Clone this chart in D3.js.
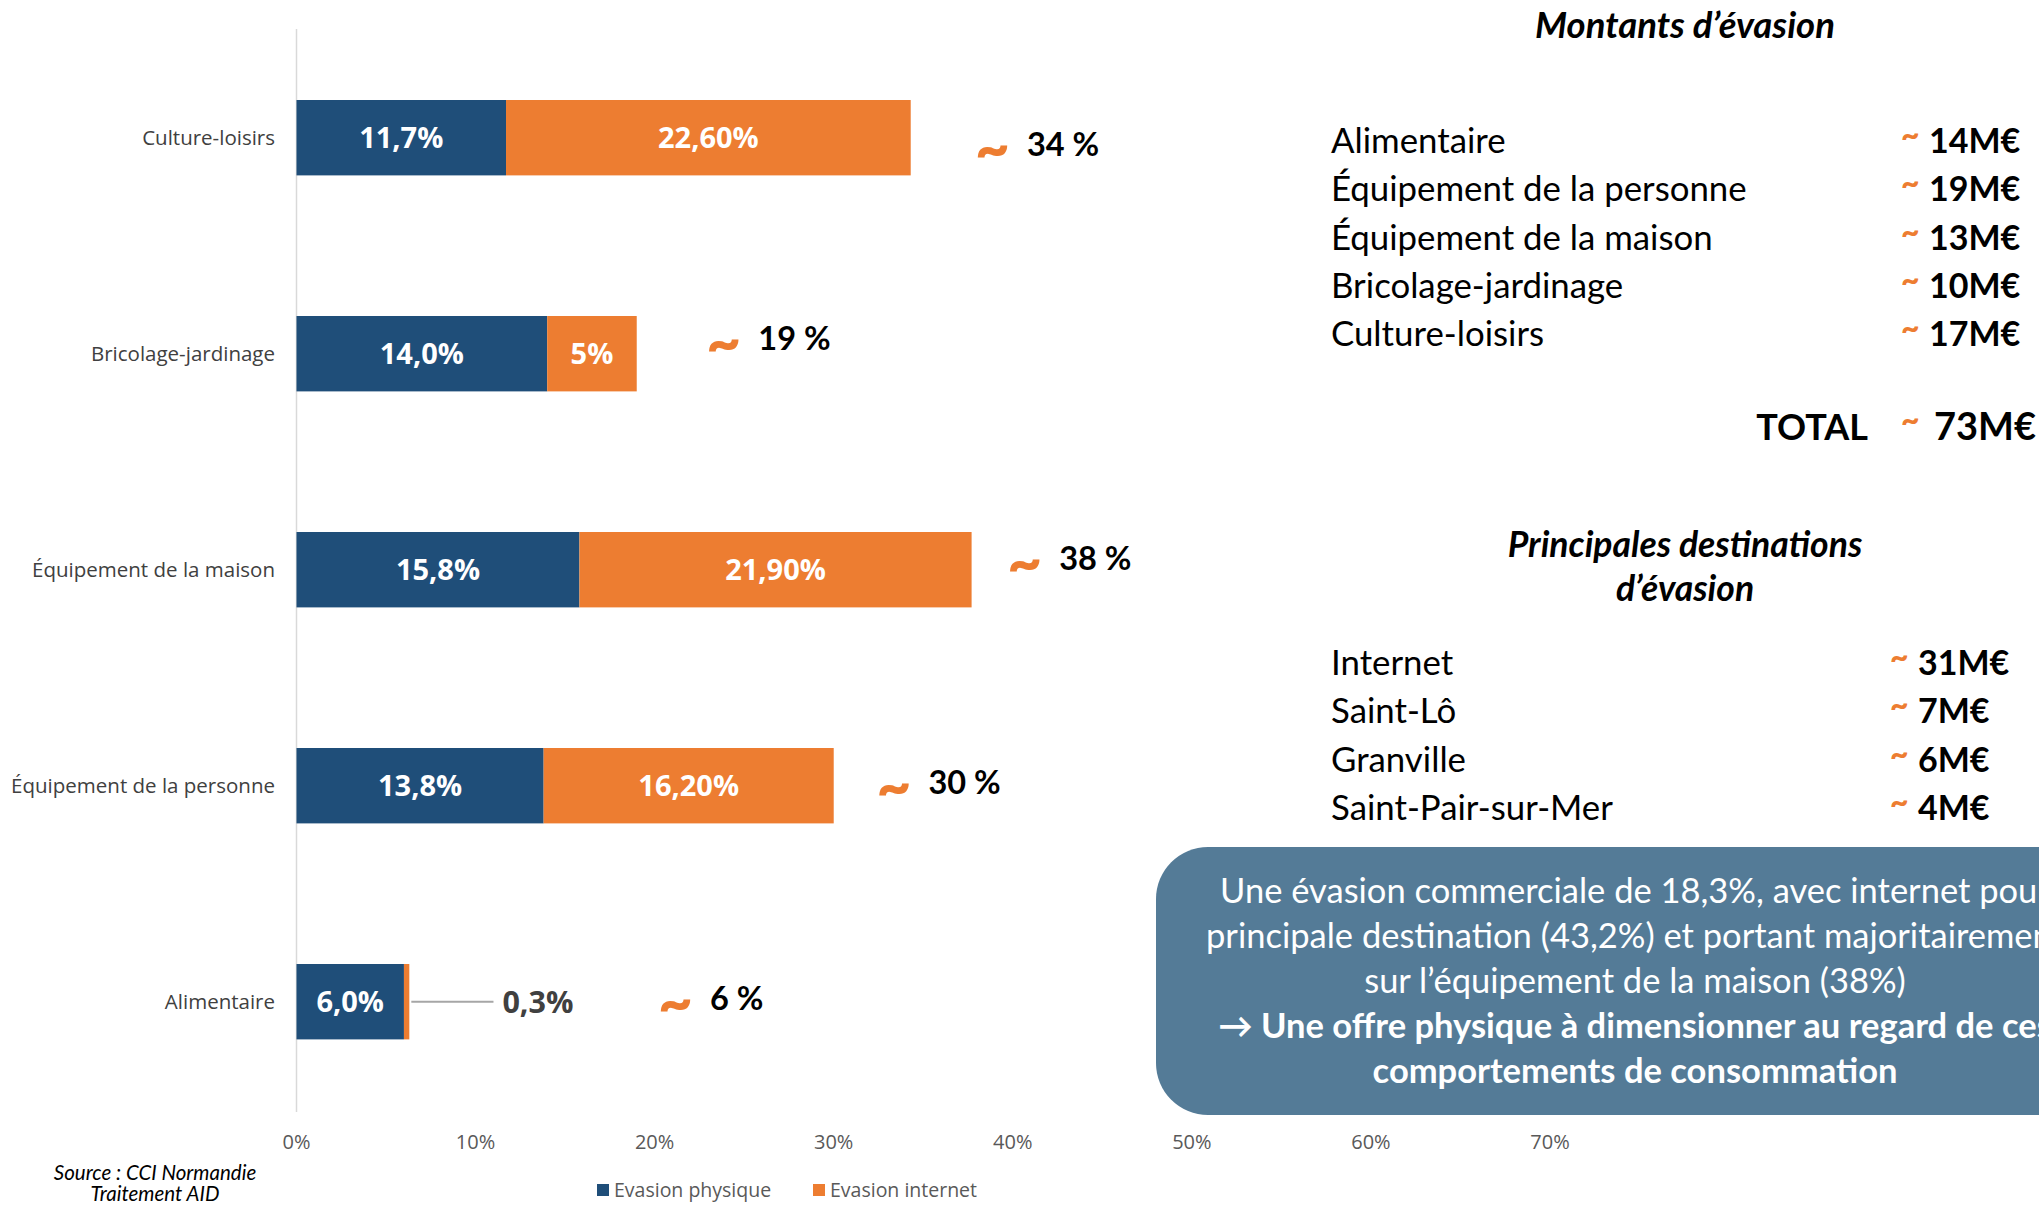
<!DOCTYPE html>
<html>
<head>
<meta charset="utf-8">
<script src="https://cdn.jsdelivr.net/npm/d3@7"></script>
<style>
  html, body { margin: 0; padding: 0; background: #fff; }
  svg { display: block; }
</style>
</head>
<body>
<svg id="chart" width="2039" height="1205"></svg>
<script>
// chart data (top to bottom order)
const categories = ['Culture-loisirs', 'Bricolage-jardinage', 'Équipement de la maison', 'Équipement de la personne', 'Alimentaire'];
const physique = [11.7, 14.0, 15.8, 13.8, 6.0];
const internet = [22.6, 5.0, 21.9, 16.2, 0.3];
const physiqueLabels = ['11,7%', '14,0%', '15,8%', '13,8%', '6,0%'];
const internetLabels = ['22,60%', '5%', '21,90%', '16,20%', '0,3%'];
const totalLabels = ['34 %', '19 %', '38 %', '30 %', '6 %'];
// where the "~ xx %" notes sit, in % of the x axis
const totalLabelAt = [38.0, 23.0, 39.8, 32.5, 20.3];
const totalLabelDy = [7, -15, -11, -3, -3];
const xTicks = [0, 10, 20, 30, 40, 50, 60, 70];

const series = ['Evasion physique', 'Evasion internet'];
const colors = ['#1f4e79', '#ed7d31'];

// right panel
const amountNames = ['Alimentaire', 'Équipement de la personne', 'Équipement de la maison', 'Bricolage-jardinage', 'Culture-loisirs'];
const amountValues = ['14M€', '19M€', '13M€', '10M€', '17M€'];
const totalAmount = '73M€';
const destNames = ['Internet', 'Saint-Lô', 'Granville', 'Saint-Pair-sur-Mer'];
const destValues = ['31M€', '7M€', '6M€', '4M€'];
const boxLines = [
  'Une évasion commerciale de 18,3%, avec internet pour',
  'principale destination (43,2%) et portant majoritairement',
  'sur l’équipement de la maison (38%)',
  '→ Une offre physique à dimensionner au regard de ces',
  'comportements de consommation'
];

const svg = d3.select('#chart');
const chartFont = '"Open Sans", sans-serif';
const textFont = 'Lato, "Noto Sans", sans-serif';
const orange = '#ed7d31';

const x = d3.scaleLinear().domain([0, 70]).range([296.5, 1550]);
const y = d3.scaleBand().domain(categories).range([29.7, 1109.7])
  .paddingInner(0.651).paddingOuter(0.3255);

// vertical axis line
svg.append('line')
  .attr('x1', x(0)).attr('x2', x(0))
  .attr('y1', 29).attr('y2', 1112)
  .attr('stroke', '#d9d9d9').attr('stroke-width', 1.5);

// x tick labels
svg.append('g').selectAll('text').data(xTicks).join('text')
  .attr('x', d => x(d))
  .attr('y', 1149)
  .attr('text-anchor', 'middle')
  .attr('font-family', chartFont).attr('font-size', 20)
  .attr('fill', '#595959')
  .text(d => d + '%');

// category labels
svg.append('g').selectAll('text').data(categories).join('text')
  .attr('x', 275)
  .attr('y', d => y(d) + y.bandwidth() / 2)
  .attr('dy', '0.35em')
  .attr('text-anchor', 'end')
  .attr('font-family', chartFont).attr('font-size', 20.5)
  .attr('fill', '#404040')
  .text(d => d);

// stacked bars
const rows = categories.map((c, i) => ({ c, i, p: physique[i], n: internet[i] }));
const bars = svg.append('g');
bars.selectAll('rect.phys').data(rows).join('rect')
  .attr('class', 'phys')
  .attr('x', x(0))
  .attr('y', d => y(d.c))
  .attr('width', d => x(d.p) - x(0))
  .attr('height', y.bandwidth())
  .attr('fill', colors[0]);
bars.selectAll('rect.net').data(rows).join('rect')
  .attr('class', 'net')
  .attr('x', d => x(d.p))
  .attr('y', d => y(d.c))
  .attr('width', d => x(d.p + d.n) - x(d.p))
  .attr('height', y.bandwidth())
  .attr('fill', colors[1]);

// segment labels
const labelFont = 29;
bars.selectAll('text.phys').data(rows).join('text')
  .attr('x', d => (x(0) + x(d.p)) / 2)
  .attr('y', d => y(d.c) + y.bandwidth() / 2)
  .attr('dy', '0.36em')
  .attr('text-anchor', 'middle')
  .attr('font-family', chartFont).attr('font-size', labelFont).attr('font-weight', 700)
  .attr('fill', '#fff')
  .text(d => physiqueLabels[d.i]);

const wide = rows.filter(d => d.n >= 2);
const narrow = rows.filter(d => d.n < 2);
bars.selectAll('text.net').data(wide).join('text')
  .attr('x', d => (x(d.p) + x(d.p + d.n)) / 2)
  .attr('y', d => y(d.c) + y.bandwidth() / 2)
  .attr('dy', '0.36em')
  .attr('text-anchor', 'middle')
  .attr('font-family', chartFont).attr('font-size', labelFont).attr('font-weight', 700)
  .attr('fill', '#fff')
  .text(d => internetLabels[d.i]);

// tiny segment: label outside with a leader line
narrow.forEach(d => {
  const cy = y(d.c) + y.bandwidth() / 2;
  svg.append('line')
    .attr('x1', x(d.p + d.n) + 2).attr('x2', x(11))
    .attr('y1', cy).attr('y2', cy)
    .attr('stroke', '#a6a6a6').attr('stroke-width', 2);
  svg.append('text')
    .attr('x', x(11.5))
    .attr('y', cy).attr('dy', '0.36em')
    .attr('font-family', chartFont).attr('font-size', 30.5).attr('font-weight', 700)
    .attr('fill', '#404040')
    .text(internetLabels[d.i]);
});

// "~ total" notes
const notes = svg.append('g');
rows.forEach(d => {
  const cy = y(d.c) + y.bandwidth() / 2 + totalLabelDy[d.i];
  const x0 = x(totalLabelAt[d.i]);
  notes.append('text')
    .attr('x', x0 - 2).attr('y', cy + 24)
    .attr('font-family', textFont).attr('font-size', 60).attr('font-weight', 900)
    .attr('fill', orange)
    .text('~');
  notes.append('text')
    .attr('x', x0 + 50).attr('y', cy + 11)
    .attr('font-family', textFont).attr('font-size', 32.5).attr('font-weight', 700)
    .attr('fill', '#000')
    .text(totalLabels[d.i]);
});

// legend
const legend = svg.append('g');
const legendX = [597, 813];
series.forEach((s, i) => {
  legend.append('rect')
    .attr('x', legendX[i]).attr('y', 1184)
    .attr('width', 12).attr('height', 12)
    .attr('fill', colors[i]);
  legend.append('text')
    .attr('x', legendX[i] + 17).attr('y', 1197)
    .attr('font-family', chartFont).attr('font-size', 19.5)
    .attr('fill', '#595959')
    .text(s);
});

// source
svg.append('text')
  .attr('x', 155).attr('y', 1180)
  .attr('text-anchor', 'middle')
  .attr('font-family', textFont).attr('font-size', 20.5).attr('font-style', 'italic')
  .attr('fill', '#000')
  .text('Source : CCI Normandie');
svg.append('text')
  .attr('x', 155).attr('y', 1201)
  .attr('text-anchor', 'middle')
  .attr('font-family', textFont).attr('font-size', 20.5).attr('font-style', 'italic')
  .attr('fill', '#000')
  .text('Traitement AID');

// right panel
const panel = svg.append('g').attr('font-family', textFont);

function heading(lines, y0, size) {
  lines.forEach((t, i) => {
    panel.append('text')
      .attr('x', 1685).attr('y', y0 + i * 44)
      .attr('text-anchor', 'middle')
      .attr('font-size', size).attr('font-weight', 700).attr('font-style', 'italic')
      .attr('fill', '#000')
      .text(t);
  });
}

function tilde(tx, by) {
  panel.append('text')
    .attr('x', tx).attr('y', by - 7)
    .attr('font-size', 32).attr('font-weight', 900)
    .attr('fill', orange)
    .text('~');
}

function list(names, values, y0, tildeX, valueX) {
  names.forEach((n, i) => {
    const by = y0 + i * 48.3;
    panel.append('text')
      .attr('x', 1331).attr('y', by)
      .attr('font-size', 34.8)
      .attr('fill', '#000')
      .text(n);
    tilde(tildeX, by);
    panel.append('text')
      .attr('x', valueX).attr('y', by)
      .attr('font-size', 34).attr('font-weight', 700)
      .attr('fill', '#000')
      .text(values[i]);
  });
}

heading(['Montants d’évasion'], 38, 36.5);
list(amountNames, amountValues, 153, 1901, 1929);

panel.append('text')
  .attr('x', 1868).attr('y', 440)
  .attr('text-anchor', 'end')
  .attr('font-size', 36).attr('font-weight', 700)
  .attr('fill', '#000')
  .text('TOTAL');
tilde(1901, 438);
panel.append('text')
  .attr('x', 1934).attr('y', 440)
  .attr('font-size', 38).attr('font-weight', 700)
  .attr('fill', '#000')
  .text(totalAmount);

heading(['Principales destinations', 'd’évasion'], 557, 35.5);
list(destNames, destValues, 675, 1890, 1918);

// conclusion box
const box = svg.append('g').attr('font-family', textFont);
box.append('rect')
  .attr('x', 1156).attr('y', 847)
  .attr('width', 1000).attr('height', 268)
  .attr('rx', 52).attr('ry', 52)
  .attr('fill', '#547b97');
boxLines.forEach((t, i) => {
  box.append('text')
    .attr('x', 1635).attr('y', 903 + i * 45)
    .attr('text-anchor', 'middle')
    .attr('font-size', 34.5).attr('font-weight', i >= 3 ? 700 : 400)
    .attr('fill', '#fff')
    .text(t);
});
</script>
</body>
</html>
